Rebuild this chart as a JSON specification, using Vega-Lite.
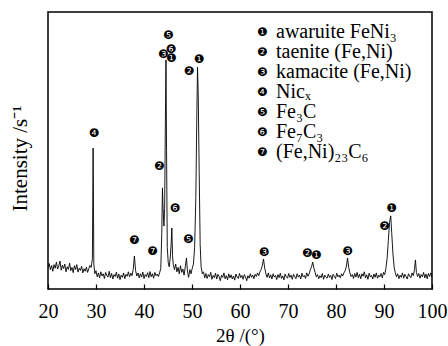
{
  "$schema": "https://vega.github.io/schema/vega-lite/v6.json",
  "autosize": {"type": "none"},
  "width": 384,
  "height": 277,
  "padding": {"left": 48, "top": 12, "right": 16, "bottom": 57},
  "background": "white",
  "config": {
    "view": {"stroke": "black", "strokeWidth": 1.5},
    "font": "Liberation Serif"
  },
  "datasets": {
    "xrd": [
      {"t":20.00,"i":78},{"t":20.25,"i":92},{"t":20.50,"i":70},{"t":20.75,"i":85},{"t":21.00,"i":64},{"t":21.25,"i":88},{"t":21.50,"i":75},{"t":21.75,"i":97},
      {"t":22.00,"i":72},{"t":22.25,"i":83},{"t":22.50,"i":101},{"t":22.75,"i":68},{"t":23.00,"i":86},{"t":23.25,"i":74},{"t":23.50,"i":90},{"t":23.75,"i":62},
      {"t":24.00,"i":80},{"t":24.25,"i":71},{"t":24.50,"i":93},{"t":24.75,"i":66},{"t":25.00,"i":78},{"t":25.25,"i":59},{"t":25.50,"i":84},{"t":25.75,"i":70},
      {"t":26.00,"i":88},{"t":26.25,"i":61},{"t":26.50,"i":75},{"t":26.75,"i":67},{"t":27.00,"i":82},{"t":27.25,"i":58},{"t":27.50,"i":73},{"t":27.75,"i":64},
      {"t":28.00,"i":79},{"t":28.25,"i":60},{"t":28.50,"i":74},{"t":28.75,"i":85},{"t":29.00,"i":78},{"t":29.25,"i":110},{"t":29.40,"i":509},{"t":29.55,"i":90},
      {"t":29.75,"i":55},{"t":30.00,"i":66},{"t":30.25,"i":44},{"t":30.50,"i":58},{"t":30.75,"i":40},{"t":31.00,"i":62},{"t":31.25,"i":47},{"t":31.50,"i":55},
      {"t":31.75,"i":38},{"t":32.00,"i":60},{"t":32.25,"i":49},{"t":32.50,"i":43},{"t":32.75,"i":64},{"t":33.00,"i":41},{"t":33.25,"i":56},{"t":33.50,"i":36},
      {"t":33.75,"i":52},{"t":34.00,"i":45},{"t":34.25,"i":61},{"t":34.50,"i":39},{"t":34.75,"i":54},{"t":35.00,"i":34},{"t":35.25,"i":50},{"t":35.50,"i":42},
      {"t":35.75,"i":58},{"t":36.00,"i":37},{"t":36.25,"i":53},{"t":36.50,"i":46},{"t":36.75,"i":62},{"t":37.00,"i":44},{"t":37.25,"i":57},{"t":37.50,"i":48},
      {"t":37.75,"i":70},{"t":38.00,"i":119},{"t":38.25,"i":66},{"t":38.50,"i":47},{"t":38.75,"i":58},{"t":39.00,"i":40},{"t":39.25,"i":55},{"t":39.50,"i":43},
      {"t":39.75,"i":61},{"t":40.00,"i":38},{"t":40.25,"i":52},{"t":40.50,"i":45},{"t":40.75,"i":59},{"t":41.00,"i":41},{"t":41.25,"i":63},{"t":41.50,"i":44},
      {"t":41.75,"i":55},{"t":42.00,"i":39},{"t":42.25,"i":60},{"t":42.50,"i":48},{"t":42.75,"i":54},{"t":43.00,"i":45},{"t":43.25,"i":58},{"t":43.50,"i":75},
      {"t":43.70,"i":200},{"t":43.85,"i":365},{"t":43.95,"i":300},{"t":44.15,"i":227},{"t":44.30,"i":290},{"t":44.45,"i":600},{"t":44.58,"i":827},{"t":44.70,"i":500},
      {"t":44.85,"i":150},{"t":45.05,"i":95},{"t":45.25,"i":80},{"t":45.45,"i":110},{"t":45.65,"i":160},{"t":45.80,"i":220},{"t":45.95,"i":120},{"t":46.10,"i":88},
      {"t":46.35,"i":70},{"t":46.60,"i":90},{"t":46.85,"i":62},{"t":47.10,"i":78},{"t":47.35,"i":55},{"t":47.60,"i":84},{"t":47.85,"i":60},{"t":48.10,"i":72},
      {"t":48.35,"i":50},{"t":48.60,"i":80},{"t":48.85,"i":112},{"t":49.05,"i":65},{"t":49.30,"i":42},{"t":49.55,"i":70},{"t":49.80,"i":55},{"t":50.05,"i":75},
      {"t":50.30,"i":90},{"t":50.55,"i":150},{"t":50.80,"i":330},{"t":51.00,"i":620},{"t":51.15,"i":801},{"t":51.30,"i":700},{"t":51.50,"i":420},{"t":51.70,"i":160},
      {"t":51.90,"i":80},{"t":52.15,"i":55},{"t":52.40,"i":62},{"t":52.65,"i":40},{"t":52.90,"i":56},{"t":53.15,"i":38},{"t":53.40,"i":52},{"t":53.65,"i":44},
      {"t":53.90,"i":60},{"t":54.15,"i":35},{"t":54.40,"i":49},{"t":54.65,"i":41},{"t":54.90,"i":57},{"t":55.15,"i":36},{"t":55.40,"i":53},{"t":55.65,"i":45},
      {"t":55.90,"i":30},{"t":56.15,"i":50},{"t":56.40,"i":42},{"t":56.65,"i":58},{"t":56.90,"i":37},{"t":57.15,"i":48},{"t":57.40,"i":33},{"t":57.65,"i":55},
      {"t":57.90,"i":40},{"t":58.15,"i":51},{"t":58.40,"i":36},{"t":58.65,"i":47},{"t":58.90,"i":32},{"t":59.15,"i":54},{"t":59.40,"i":43},{"t":59.65,"i":38},
      {"t":59.90,"i":56},{"t":60.15,"i":41},{"t":60.40,"i":49},{"t":60.65,"i":35},{"t":60.90,"i":52},{"t":61.15,"i":44},{"t":61.40,"i":30},{"t":61.65,"i":48},
      {"t":61.90,"i":39},{"t":62.15,"i":55},{"t":62.40,"i":42},{"t":62.65,"i":50},{"t":62.90,"i":37},{"t":63.15,"i":53},{"t":63.40,"i":45},{"t":63.65,"i":58},
      {"t":63.90,"i":48},{"t":64.15,"i":62},{"t":64.40,"i":70},{"t":64.65,"i":85},{"t":64.90,"i":108},{"t":65.15,"i":75},{"t":65.40,"i":55},{"t":65.65,"i":42},
      {"t":65.90,"i":58},{"t":66.15,"i":40},{"t":66.40,"i":51},{"t":66.65,"i":36},{"t":66.90,"i":55},{"t":67.15,"i":43},{"t":67.40,"i":49},{"t":67.65,"i":34},
      {"t":67.90,"i":52},{"t":68.15,"i":41},{"t":68.40,"i":57},{"t":68.65,"i":38},{"t":68.90,"i":47},{"t":69.15,"i":33},{"t":69.40,"i":54},{"t":69.65,"i":44},
      {"t":69.90,"i":39},{"t":70.15,"i":56},{"t":70.40,"i":42},{"t":70.65,"i":50},{"t":70.90,"i":35},{"t":71.15,"i":53},{"t":71.40,"i":45},{"t":71.65,"i":37},
      {"t":71.90,"i":55},{"t":72.15,"i":43},{"t":72.40,"i":50},{"t":72.65,"i":36},{"t":72.90,"i":57},{"t":73.15,"i":44},{"t":73.40,"i":49},{"t":73.65,"i":38},
      {"t":73.90,"i":58},{"t":74.15,"i":46},{"t":74.40,"i":55},{"t":74.65,"i":70},{"t":74.90,"i":80},{"t":75.15,"i":97},{"t":75.40,"i":75},{"t":75.65,"i":60},
      {"t":75.90,"i":44},{"t":76.15,"i":52},{"t":76.40,"i":37},{"t":76.65,"i":48},{"t":76.90,"i":41},{"t":77.15,"i":56},{"t":77.40,"i":35},{"t":77.65,"i":50},
      {"t":77.90,"i":43},{"t":78.15,"i":39},{"t":78.40,"i":54},{"t":78.65,"i":42},{"t":78.90,"i":49},{"t":79.15,"i":34},{"t":79.40,"i":53},{"t":79.65,"i":45},
      {"t":79.90,"i":38},{"t":80.15,"i":57},{"t":80.40,"i":44},{"t":80.65,"i":50},{"t":80.90,"i":40},{"t":81.15,"i":55},{"t":81.40,"i":47},{"t":81.65,"i":58},
      {"t":81.90,"i":66},{"t":82.15,"i":80},{"t":82.40,"i":112},{"t":82.65,"i":78},{"t":82.90,"i":58},{"t":83.15,"i":45},{"t":83.40,"i":52},{"t":83.65,"i":38},
      {"t":83.90,"i":56},{"t":84.15,"i":43},{"t":84.40,"i":60},{"t":84.65,"i":41},{"t":84.90,"i":53},{"t":85.15,"i":37},{"t":85.40,"i":55},{"t":85.65,"i":46},
      {"t":85.90,"i":62},{"t":86.15,"i":40},{"t":86.40,"i":51},{"t":86.65,"i":35},{"t":86.90,"i":57},{"t":87.15,"i":44},{"t":87.40,"i":49},{"t":87.65,"i":36},
      {"t":87.90,"i":54},{"t":88.15,"i":42},{"t":88.40,"i":58},{"t":88.65,"i":39},{"t":88.90,"i":50},{"t":89.15,"i":44},{"t":89.40,"i":56},{"t":89.65,"i":40},
      {"t":89.90,"i":60},{"t":90.15,"i":52},{"t":90.40,"i":75},{"t":90.65,"i":110},{"t":90.90,"i":175},{"t":91.15,"i":240},{"t":91.40,"i":264},{"t":91.60,"i":205},
      {"t":91.85,"i":130},{"t":92.10,"i":80},{"t":92.35,"i":58},{"t":92.60,"i":44},{"t":92.85,"i":55},{"t":93.10,"i":37},{"t":93.35,"i":50},{"t":93.60,"i":42},
      {"t":93.85,"i":58},{"t":94.10,"i":39},{"t":94.35,"i":53},{"t":94.60,"i":45},{"t":94.85,"i":36},{"t":95.10,"i":55},{"t":95.35,"i":47},{"t":95.60,"i":41},
      {"t":95.85,"i":58},{"t":96.10,"i":48},{"t":96.35,"i":70},{"t":96.55,"i":105},{"t":96.75,"i":60},{"t":97.00,"i":45},{"t":97.25,"i":56},{"t":97.50,"i":39},
      {"t":97.75,"i":52},{"t":98.00,"i":44},{"t":98.25,"i":60},{"t":98.50,"i":40},{"t":98.75,"i":54},{"t":99.00,"i":37},{"t":99.25,"i":56},{"t":99.50,"i":45},
      {"t":99.75,"i":58},{"t":100.00,"i":42}
    ],
    "marks": [
      {"t":29.6,"i":563,"num":"❹","phase":"Nicₓ"},
      {"t":45.07,"i":917,"num":"❺","phase":"Fe₃C"},
      {"t":45.63,"i":866,"num":"❻","phase":"Fe₇C₃"},
      {"t":44.02,"i":847,"num":"❸","phase":"kamacite (Fe,Ni)"},
      {"t":45.69,"i":833,"num":"❶","phase":"awaruite FeNi₃"},
      {"t":49.4,"i":788,"num":"❷","phase":"taenite (Fe,Ni)"},
      {"t":51.46,"i":829,"num":"❶","phase":"awaruite FeNi₃"},
      {"t":43.19,"i":445,"num":"❷","phase":"taenite (Fe,Ni)"},
      {"t":46.46,"i":292,"num":"❻","phase":"Fe₇C₃"},
      {"t":37.98,"i":176,"num":"❼","phase":"(Fe,Ni)₂₃C₆"},
      {"t":41.81,"i":136,"num":"❼","phase":"(Fe,Ni)₂₃C₆"},
      {"t":49.23,"i":182,"num":"❺","phase":"Fe₃C"},
      {"t":65.0,"i":132,"num":"❸","phase":"kamacite (Fe,Ni)"},
      {"t":74.03,"i":130,"num":"❷","phase":"taenite (Fe,Ni)"},
      {"t":75.9,"i":124,"num":"❶","phase":"awaruite FeNi₃"},
      {"t":82.43,"i":136,"num":"❸","phase":"kamacite (Fe,Ni)"},
      {"t":90.14,"i":229,"num":"❷","phase":"taenite (Fe,Ni)"},
      {"t":91.6,"i":294,"num":"❶","phase":"awaruite FeNi₃"}
    ]
  },
  "layer": [
    {
      "data": {"name": "xrd"},
      "mark": {"type": "line", "color": "black", "strokeWidth": 0.9, "clip": true},
      "encoding": {
        "x": {
          "field": "t", "type": "quantitative",
          "scale": {"domain": [20, 100], "nice": false, "zero": false},
          "axis": {
            "values": [20,22.5,25,27.5,30,32.5,35,37.5,40,42.5,45,47.5,50,52.5,55,57.5,60,62.5,65,67.5,70,72.5,75,77.5,80,82.5,85,87.5,90,92.5,95,97.5,100],
            "labelExpr": "datum.value % 10 === 0 ? datum.value : ''",
            "grid": false, "domain": false,
            "tickSize": -5, "tickColor": "black", "tickWidth": 1.2,
            "labelFont": "Liberation Serif", "labelFontSize": 20, "labelColor": "black",
            "labelPadding": 17, "labelOverlap": false, "labelFlush": false,
            "title": "2θ /(°)", "titleFont": "Liberation Serif", "titleFontSize": 19,
            "titleFontWeight": "normal", "titleColor": "black", "titlePadding": 5
          }
        },
        "y": {
          "field": "i", "type": "quantitative",
          "scale": {"domain": [0, 1000], "nice": false},
          "axis": {
            "labels": false, "ticks": false, "domain": false, "grid": false,
            "title": "Intensity /s⁻¹", "titleFont": "Liberation Serif", "titleFontSize": 21,
            "titleFontWeight": "normal", "titleColor": "black", "titlePadding": 18,
            "titleY": 146
          }
        }
      }
    },
    {
      "data": {"name": "marks"},
      "mark": {"type": "text", "font": "DejaVu Sans", "fontSize": 12, "align": "center", "baseline": "middle"},
      "encoding": {
        "x": {"field": "t", "type": "quantitative"},
        "y": {"field": "i", "type": "quantitative"},
        "text": {"field": "num"},
        "color": {
          "field": "phase", "type": "nominal",
          "scale": {
            "domain": ["awaruite FeNi₃", "taenite (Fe,Ni)", "kamacite (Fe,Ni)", "Nicₓ", "Fe₃C", "Fe₇C₃", "(Fe,Ni)₂₃C₆"],
            "range": ["black","black","black","black","black","black","black"]
          },
          "legend": {
            "orient": "none", "legendX": 208, "legendY": 10,
            "title": null, "padding": 0,
            "symbolSize": 400, "symbolOpacity": 0, "symbolStrokeWidth": 0, "symbolType": "square",
            "symbolFillColor": "transparent", "symbolStrokeColor": "transparent",
            "labelOffset": 0, "labelFont": "Liberation Serif", "labelFontSize": 20,
            "labelColor": "black", "labelLimit": 300, "rowPadding": -7
          }
        },
        "opacity": {
          "field": "num", "type": "nominal",
          "scale": {
            "domain": ["❶", "❷", "❸", "❹", "❺", "❻", "❼"],
            "range": [1, 1, 1, 1, 1, 1, 1]
          },
          "legend": {
            "orient": "none", "legendX": 189, "legendY": 10,
            "title": null, "padding": 0,
            "symbolSize": 400, "symbolOpacity": 0, "symbolStrokeWidth": 0, "symbolType": "square",
            "symbolFillColor": "transparent", "symbolStrokeColor": "transparent",
            "labelOffset": 0, "labelFont": "DejaVu Sans", "labelFontSize": 12,
            "labelColor": "black", "rowPadding": -7
          }
        }
      }
    }
  ]
}
